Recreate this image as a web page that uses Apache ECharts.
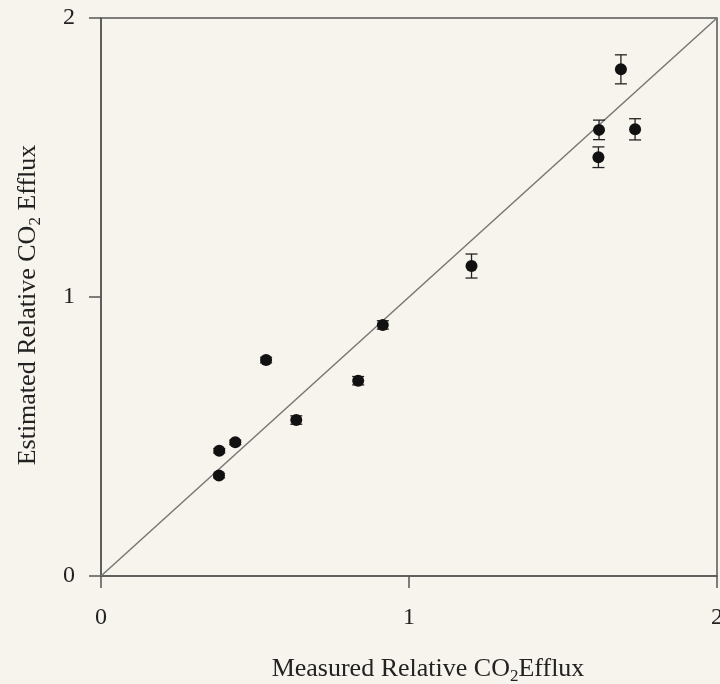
<!DOCTYPE html>
<html>
<head>
<meta charset="utf-8">
<script src="https://cdn.jsdelivr.net/npm/echarts@6/dist/echarts.min.js"></script>
<style>html,body{margin:0;padding:0;background:#f6f4ec;}#c{width:720px;height:684px;}</style>
</head>
<body>
<div id="c"></div>
<script>
var measured  = [0.536, 0.835, 0.634, 0.384, 0.436, 0.383, 0.915, 1.203, 1.688, 1.617, 1.734, 1.615];
var estimated = [0.774, 0.700, 0.559, 0.449, 0.479, 0.360, 0.900, 1.111, 1.816, 1.599, 1.601, 1.501];
var errors    = [0.010, 0.015, 0.015, 0.008, 0.008, 0.008, 0.015, 0.043, 0.052, 0.035, 0.038, 0.037];
var identityLine = [[0, 0], [2, 2]];
var xTicks = [0, 1, 2];
var yTicks = [0, 1, 2];

var chart = echarts.init(document.getElementById('c'));
var font = 'Liberation Serif';
var pts = measured.map(function (m, i) { return [m, estimated[i]]; });
var errData = measured.map(function (m, i) { return [m, estimated[i] - errors[i], estimated[i] + errors[i]]; });

chart.setOption({
  backgroundColor: '#f6f4ec',
  animation: false,
  grid: { left: 101, right: 3, top: 18, bottom: 108, show: true, borderColor: '#555', borderWidth: 1.5,
    backgroundColor: 'transparent', containLabel: false, outerBoundsMode: 'none' },
  xAxis: {
    type: 'value', min: 0, max: 2, interval: 1,
    axisLine: { show: true, lineStyle: { color: '#555', width: 1.5 } },
    axisTick: { show: true, inside: false, length: 12, lineStyle: { color: '#555', width: 1.5 } },
    splitLine: { show: false },
    axisLabel: { margin: 30, color: '#222', fontFamily: font, fontSize: 24, hideOverlap: false,
      formatter: function (v) { return xTicks.indexOf(v) >= 0 ? String(v) : ''; } },
    name: 'Measured Relative CO{sub|2}Efflux',
    nameLocation: 'middle', nameGap: 77,
    nameTextStyle: { color: '#222', fontFamily: font, fontSize: 26, padding: [0, 0, 0, 38],
      rich: { sub: { fontFamily: font, fontSize: 17, color: '#222', padding: [15, 0, 0, 0] } } }
  },
  yAxis: {
    type: 'value', min: 0, max: 2, interval: 1,
    axisLine: { show: true, lineStyle: { color: '#555', width: 1.5 } },
    axisTick: { show: true, inside: false, length: 12, lineStyle: { color: '#555', width: 1.5 } },
    splitLine: { show: false },
    axisLabel: { margin: 26, color: '#222', fontFamily: font, fontSize: 24, hideOverlap: false,
      formatter: function (v) { return yTicks.indexOf(v) >= 0 ? String(v) : ''; } },
    name: 'Estimated Relative CO{sub|2} Efflux',
    nameLocation: 'middle', nameGap: 57,
    nameTextStyle: { color: '#222', fontFamily: font, fontSize: 26, padding: [0, 16, 0, 0],
      rich: { sub: { fontFamily: font, fontSize: 17, color: '#222', padding: [15, 0, 0, 0] } } }
  },
  series: [
    {
      type: 'line', data: identityLine, symbol: 'none', silent: true,
      lineStyle: { color: '#777', width: 1.5 }, z: 1
    },
    {
      type: 'custom', data: errData, z: 2,
      renderItem: function (params, api) {
        var x = api.value(0);
        var lo = api.coord([x, api.value(1)]);
        var hi = api.coord([x, api.value(2)]);
        var hw = 6;
        var st = { stroke: '#222', lineWidth: 1.3 };
        return { type: 'group', children: [
          { type: 'line', shape: { x1: lo[0], y1: lo[1], x2: hi[0], y2: hi[1] }, style: st },
          { type: 'line', shape: { x1: lo[0] - hw, y1: lo[1], x2: lo[0] + hw, y2: lo[1] }, style: st },
          { type: 'line', shape: { x1: hi[0] - hw, y1: hi[1], x2: hi[0] + hw, y2: hi[1] }, style: st }
        ] };
      }
    },
    {
      type: 'scatter', data: pts, symbol: 'circle', symbolSize: 12, z: 3,
      itemStyle: { color: '#111', opacity: 1 }
    }
  ]
});
</script>
</body>
</html>
